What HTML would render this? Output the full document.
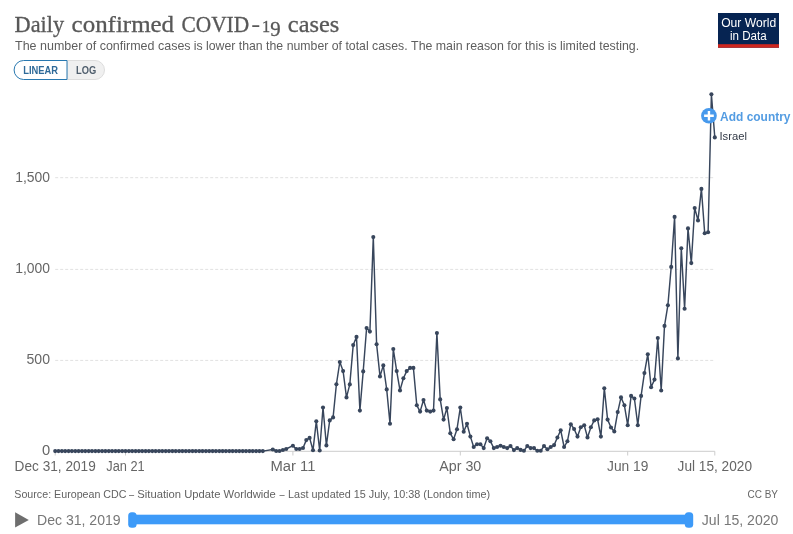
<!DOCTYPE html>
<html lang="en"><head><meta charset="utf-8"><title>Daily confirmed COVID-19 cases</title>
<style>
html,body{margin:0;padding:0;background:#fff;}
body{width:793px;height:534px;overflow:hidden;}
svg{display:block;font-family:"Liberation Sans",sans-serif;}
.serif{font-family:"Liberation Serif",serif;}
</style></head><body>
<svg width="793" height="534" viewBox="0 0 793 534">
<rect width="793" height="534" fill="#fff"/>
<!-- header -->
<text class="serif" y="32.2" font-size="23" fill="#585858" stroke="#585858" stroke-width="0.3"><tspan x="14.6" textLength="49.6" lengthAdjust="spacingAndGlyphs">Daily</tspan> <tspan x="71.6" textLength="102.5" lengthAdjust="spacingAndGlyphs">confirmed</tspan> <tspan x="181.4" textLength="67.8" lengthAdjust="spacingAndGlyphs">COVID</tspan><tspan x="251.2" stroke="none" textLength="9" lengthAdjust="spacingAndGlyphs">-</tspan><tspan x="262" y="32.4" font-size="16.8" textLength="8.2" lengthAdjust="spacingAndGlyphs">1</tspan><tspan x="270.2" y="35.6" font-size="21.3" textLength="10.4" lengthAdjust="spacingAndGlyphs">9</tspan> <tspan x="287.8" y="32.2" textLength="51.5" lengthAdjust="spacingAndGlyphs">cases</tspan></text>
<text y="50.2" font-size="12.6" fill="#5e5e5e"><tspan x="15.0" textLength="175.6" lengthAdjust="spacingAndGlyphs">The number of confirmed cases</tspan> <tspan x="193.7" textLength="213.9" lengthAdjust="spacingAndGlyphs">is lower than the number of total cases.</tspan> <tspan x="411.1" textLength="228.0" lengthAdjust="spacingAndGlyphs">The main reason for this is limited testing.</tspan></text>
<!-- logo -->
<g>
<rect x="718" y="13" width="61" height="34.7" fill="#062452"/>
<rect x="718" y="44.2" width="61" height="3.5" fill="#ce261e"/>
<text x="748.7" y="26.9" text-anchor="middle" font-size="12" fill="#fff" textLength="55" lengthAdjust="spacingAndGlyphs">Our World</text>
<text x="748.3" y="39.7" text-anchor="middle" font-size="12" fill="#fff" textLength="36.7" lengthAdjust="spacingAndGlyphs">in Data</text>
</g>
<!-- scale toggle -->
<g>
<path d="M67,60.5 H95 a9.5,9.5 0 0 1 0,19 H67 Z" fill="#f0f0f0" stroke="#ddd" stroke-width="1"/>
<path d="M67,60.5 H23.6 a9.5,9.5 0 0 0 0,19 H67 Z" fill="#fff" stroke="#2878b0" stroke-width="1"/>
<text x="23.2" y="73.6" font-size="10" font-weight="bold" fill="#2e6a99" textLength="34.8" lengthAdjust="spacingAndGlyphs">LINEAR</text>
<text x="76.1" y="73.6" font-size="10" font-weight="bold" fill="#4e5d6c" textLength="20.2" lengthAdjust="spacingAndGlyphs">LOG</text>
</g>
<!-- grid -->
<g stroke="#e1e1e1" stroke-width="1" stroke-dasharray="3,2">
<line x1="55.2" y1="177.7" x2="714.8" y2="177.7"/>
<line x1="55.2" y1="269.4" x2="714.8" y2="269.4"/>
<line x1="55.2" y1="360.4" x2="714.8" y2="360.4"/>
</g>
<line x1="55.2" y1="451.3" x2="714.8" y2="451.3" stroke="#ccc" stroke-width="1"/>
<g font-size="14" fill="#666" text-anchor="end">
<text x="50" y="182" textLength="34.8" lengthAdjust="spacingAndGlyphs">1,500</text>
<text x="50" y="273.2" textLength="34.8" lengthAdjust="spacingAndGlyphs">1,000</text>
<text x="50" y="364.4" textLength="23.5" lengthAdjust="spacingAndGlyphs">500</text>
<text x="50.3" y="454.6" textLength="8.2" lengthAdjust="spacingAndGlyphs">0</text>
</g>
<line x1="55.2" y1="451.3" x2="55.2" y2="455.5" stroke="#ccc" stroke-width="1"/><text x="55.2" y="471.4" text-anchor="middle" font-size="13.8" fill="#666" textLength="81.2" lengthAdjust="spacingAndGlyphs">Dec 31, 2019</text><line x1="125.5" y1="451.3" x2="125.5" y2="455.5" stroke="#ccc" stroke-width="1"/><text x="125.5" y="471.4" text-anchor="middle" font-size="13.8" fill="#666" textLength="38.4" lengthAdjust="spacingAndGlyphs">Jan 21</text><line x1="292.9" y1="451.3" x2="292.9" y2="455.5" stroke="#ccc" stroke-width="1"/><text x="292.9" y="471.4" text-anchor="middle" font-size="13.8" fill="#666" textLength="45" lengthAdjust="spacingAndGlyphs">Mar 11</text><line x1="460.3" y1="451.3" x2="460.3" y2="455.5" stroke="#ccc" stroke-width="1"/><text x="460.3" y="471.4" text-anchor="middle" font-size="13.8" fill="#666" textLength="42" lengthAdjust="spacingAndGlyphs">Apr 30</text><line x1="627.7" y1="451.3" x2="627.7" y2="455.5" stroke="#ccc" stroke-width="1"/><text x="627.7" y="471.4" text-anchor="middle" font-size="13.8" fill="#666" textLength="41.3" lengthAdjust="spacingAndGlyphs">Jun 19</text><line x1="714.8" y1="451.3" x2="714.8" y2="455.5" stroke="#ccc" stroke-width="1"/><text x="714.8" y="471.4" text-anchor="middle" font-size="13.8" fill="#666" textLength="74.4" lengthAdjust="spacingAndGlyphs">Jul 15, 2020</text>
<!-- series -->
<path d="M55.2,451.1 L58.5,451.1 L61.9,451.1 L65.2,451.1 L68.6,451.1 L71.9,451.1 L75.3,451.1 L78.6,451.1 L82.0,451.1 L85.3,451.1 L88.7,451.1 L92.0,451.1 L95.4,451.1 L98.7,451.1 L102.1,451.1 L105.4,451.1 L108.8,451.1 L112.1,451.1 L115.5,451.1 L118.8,451.1 L122.2,451.1 L125.5,451.1 L128.9,451.1 L132.2,451.1 L135.6,451.1 L138.9,451.1 L142.2,451.1 L145.6,451.1 L148.9,451.1 L152.3,451.1 L155.6,451.1 L159.0,451.1 L162.3,451.1 L165.7,451.1 L169.0,451.1 L172.4,451.1 L175.7,451.1 L179.1,451.1 L182.4,451.1 L185.8,451.1 L189.1,451.1 L192.5,451.1 L195.8,451.1 L199.2,451.1 L202.5,451.1 L205.9,451.1 L209.2,451.1 L212.6,451.1 L215.9,451.1 L219.3,451.1 L222.6,451.1 L225.9,451.1 L229.3,451.1 L232.6,451.1 L236.0,451.1 L239.3,451.1 L242.7,451.1 L246.0,451.1 L249.4,451.1 L252.7,451.1 L256.1,451.1 L259.4,451.1 L262.8,451.1 L272.8,449.5 L276.2,451.0 L279.5,451.0 L282.9,450.0 L286.2,449.0 L292.9,445.7 L296.3,449.0 L299.6,449.0 L303.0,448.0 L306.3,440.1 L309.6,437.9 L313.0,450.3 L316.3,421.2 L319.7,450.5 L323.0,407.5 L326.4,445.4 L329.7,420.4 L333.1,417.4 L336.4,384.3 L339.8,362.0 L343.1,371.1 L346.5,397.4 L349.8,384.4 L353.2,345.1 L356.5,336.9 L359.9,410.6 L363.2,371.4 L366.6,328.0 L369.9,331.6 L373.3,237.1 L376.6,344.2 L380.0,376.4 L383.3,365.4 L386.7,389.4 L390.0,423.7 L393.3,349.0 L396.7,371.1 L400.0,390.4 L403.4,378.2 L406.7,371.1 L410.1,367.9 L413.4,367.9 L416.8,405.3 L420.1,411.6 L423.5,400.0 L426.8,410.6 L430.2,411.6 L433.5,410.6 L436.9,333.1 L440.2,399.4 L443.6,419.6 L446.9,408.0 L450.3,433.3 L453.6,439.3 L457.0,429.2 L460.3,407.5 L463.7,431.8 L467.0,423.7 L470.4,436.6 L473.7,447.0 L477.0,444.3 L480.4,444.3 L483.7,448.1 L487.1,438.3 L490.4,441.3 L493.8,448.1 L497.1,447.0 L500.5,445.8 L503.8,447.0 L507.2,448.1 L510.5,446.0 L513.9,450.1 L517.2,448.1 L520.6,449.9 L523.9,450.8 L527.3,446.0 L530.6,448.1 L534.0,448.1 L537.3,450.8 L540.7,450.8 L544.0,446.0 L547.4,449.3 L550.7,447.0 L554.1,445.1 L557.4,437.5 L560.7,430.2 L564.1,447.0 L567.4,441.3 L570.8,424.2 L574.1,429.0 L577.5,436.6 L580.8,427.2 L584.2,425.2 L587.5,437.4 L590.9,427.2 L594.2,420.4 L597.6,419.3 L600.9,436.6 L604.3,388.2 L607.6,419.6 L611.0,427.5 L614.3,431.5 L617.7,412.1 L621.0,397.4 L624.4,405.3 L627.7,425.2 L631.1,395.9 L634.4,398.5 L637.8,425.2 L641.1,395.9 L644.4,373.1 L647.8,354.2 L651.1,387.3 L654.5,379.6 L657.8,338.0 L661.2,390.5 L664.5,325.9 L667.9,305.2 L671.2,266.9 L674.6,216.9 L677.9,358.4 L681.3,248.2 L684.6,308.7 L688.0,228.4 L691.3,263.1 L694.7,208.0 L698.0,220.4 L701.4,188.9 L704.7,233.3 L708.1,232.3 L711.4,94.2 L714.8,137.4" fill="none" stroke="#38465c" stroke-width="1.45" stroke-linejoin="round"/>
<g fill="#38465c"><circle cx="55.2" cy="451.1" r="2.05"/><circle cx="58.5" cy="451.1" r="2.05"/><circle cx="61.9" cy="451.1" r="2.05"/><circle cx="65.2" cy="451.1" r="2.05"/><circle cx="68.6" cy="451.1" r="2.05"/><circle cx="71.9" cy="451.1" r="2.05"/><circle cx="75.3" cy="451.1" r="2.05"/><circle cx="78.6" cy="451.1" r="2.05"/><circle cx="82.0" cy="451.1" r="2.05"/><circle cx="85.3" cy="451.1" r="2.05"/><circle cx="88.7" cy="451.1" r="2.05"/><circle cx="92.0" cy="451.1" r="2.05"/><circle cx="95.4" cy="451.1" r="2.05"/><circle cx="98.7" cy="451.1" r="2.05"/><circle cx="102.1" cy="451.1" r="2.05"/><circle cx="105.4" cy="451.1" r="2.05"/><circle cx="108.8" cy="451.1" r="2.05"/><circle cx="112.1" cy="451.1" r="2.05"/><circle cx="115.5" cy="451.1" r="2.05"/><circle cx="118.8" cy="451.1" r="2.05"/><circle cx="122.2" cy="451.1" r="2.05"/><circle cx="125.5" cy="451.1" r="2.05"/><circle cx="128.9" cy="451.1" r="2.05"/><circle cx="132.2" cy="451.1" r="2.05"/><circle cx="135.6" cy="451.1" r="2.05"/><circle cx="138.9" cy="451.1" r="2.05"/><circle cx="142.2" cy="451.1" r="2.05"/><circle cx="145.6" cy="451.1" r="2.05"/><circle cx="148.9" cy="451.1" r="2.05"/><circle cx="152.3" cy="451.1" r="2.05"/><circle cx="155.6" cy="451.1" r="2.05"/><circle cx="159.0" cy="451.1" r="2.05"/><circle cx="162.3" cy="451.1" r="2.05"/><circle cx="165.7" cy="451.1" r="2.05"/><circle cx="169.0" cy="451.1" r="2.05"/><circle cx="172.4" cy="451.1" r="2.05"/><circle cx="175.7" cy="451.1" r="2.05"/><circle cx="179.1" cy="451.1" r="2.05"/><circle cx="182.4" cy="451.1" r="2.05"/><circle cx="185.8" cy="451.1" r="2.05"/><circle cx="189.1" cy="451.1" r="2.05"/><circle cx="192.5" cy="451.1" r="2.05"/><circle cx="195.8" cy="451.1" r="2.05"/><circle cx="199.2" cy="451.1" r="2.05"/><circle cx="202.5" cy="451.1" r="2.05"/><circle cx="205.9" cy="451.1" r="2.05"/><circle cx="209.2" cy="451.1" r="2.05"/><circle cx="212.6" cy="451.1" r="2.05"/><circle cx="215.9" cy="451.1" r="2.05"/><circle cx="219.3" cy="451.1" r="2.05"/><circle cx="222.6" cy="451.1" r="2.05"/><circle cx="225.9" cy="451.1" r="2.05"/><circle cx="229.3" cy="451.1" r="2.05"/><circle cx="232.6" cy="451.1" r="2.05"/><circle cx="236.0" cy="451.1" r="2.05"/><circle cx="239.3" cy="451.1" r="2.05"/><circle cx="242.7" cy="451.1" r="2.05"/><circle cx="246.0" cy="451.1" r="2.05"/><circle cx="249.4" cy="451.1" r="2.05"/><circle cx="252.7" cy="451.1" r="2.05"/><circle cx="256.1" cy="451.1" r="2.05"/><circle cx="259.4" cy="451.1" r="2.05"/><circle cx="262.8" cy="451.1" r="2.05"/><circle cx="272.8" cy="449.5" r="2.05"/><circle cx="276.2" cy="451.0" r="2.05"/><circle cx="279.5" cy="451.0" r="2.05"/><circle cx="282.9" cy="450.0" r="2.05"/><circle cx="286.2" cy="449.0" r="2.05"/><circle cx="292.9" cy="445.7" r="2.05"/><circle cx="296.3" cy="449.0" r="2.05"/><circle cx="299.6" cy="449.0" r="2.05"/><circle cx="303.0" cy="448.0" r="2.05"/><circle cx="306.3" cy="440.1" r="2.05"/><circle cx="309.6" cy="437.9" r="2.05"/><circle cx="313.0" cy="450.3" r="2.05"/><circle cx="316.3" cy="421.2" r="2.05"/><circle cx="319.7" cy="450.5" r="2.05"/><circle cx="323.0" cy="407.5" r="2.05"/><circle cx="326.4" cy="445.4" r="2.05"/><circle cx="329.7" cy="420.4" r="2.05"/><circle cx="333.1" cy="417.4" r="2.05"/><circle cx="336.4" cy="384.3" r="2.05"/><circle cx="339.8" cy="362.0" r="2.05"/><circle cx="343.1" cy="371.1" r="2.05"/><circle cx="346.5" cy="397.4" r="2.05"/><circle cx="349.8" cy="384.4" r="2.05"/><circle cx="353.2" cy="345.1" r="2.05"/><circle cx="356.5" cy="336.9" r="2.05"/><circle cx="359.9" cy="410.6" r="2.05"/><circle cx="363.2" cy="371.4" r="2.05"/><circle cx="366.6" cy="328.0" r="2.05"/><circle cx="369.9" cy="331.6" r="2.05"/><circle cx="373.3" cy="237.1" r="2.05"/><circle cx="376.6" cy="344.2" r="2.05"/><circle cx="380.0" cy="376.4" r="2.05"/><circle cx="383.3" cy="365.4" r="2.05"/><circle cx="386.7" cy="389.4" r="2.05"/><circle cx="390.0" cy="423.7" r="2.05"/><circle cx="393.3" cy="349.0" r="2.05"/><circle cx="396.7" cy="371.1" r="2.05"/><circle cx="400.0" cy="390.4" r="2.05"/><circle cx="403.4" cy="378.2" r="2.05"/><circle cx="406.7" cy="371.1" r="2.05"/><circle cx="410.1" cy="367.9" r="2.05"/><circle cx="413.4" cy="367.9" r="2.05"/><circle cx="416.8" cy="405.3" r="2.05"/><circle cx="420.1" cy="411.6" r="2.05"/><circle cx="423.5" cy="400.0" r="2.05"/><circle cx="426.8" cy="410.6" r="2.05"/><circle cx="430.2" cy="411.6" r="2.05"/><circle cx="433.5" cy="410.6" r="2.05"/><circle cx="436.9" cy="333.1" r="2.05"/><circle cx="440.2" cy="399.4" r="2.05"/><circle cx="443.6" cy="419.6" r="2.05"/><circle cx="446.9" cy="408.0" r="2.05"/><circle cx="450.3" cy="433.3" r="2.05"/><circle cx="453.6" cy="439.3" r="2.05"/><circle cx="457.0" cy="429.2" r="2.05"/><circle cx="460.3" cy="407.5" r="2.05"/><circle cx="463.7" cy="431.8" r="2.05"/><circle cx="467.0" cy="423.7" r="2.05"/><circle cx="470.4" cy="436.6" r="2.05"/><circle cx="473.7" cy="447.0" r="2.05"/><circle cx="477.0" cy="444.3" r="2.05"/><circle cx="480.4" cy="444.3" r="2.05"/><circle cx="483.7" cy="448.1" r="2.05"/><circle cx="487.1" cy="438.3" r="2.05"/><circle cx="490.4" cy="441.3" r="2.05"/><circle cx="493.8" cy="448.1" r="2.05"/><circle cx="497.1" cy="447.0" r="2.05"/><circle cx="500.5" cy="445.8" r="2.05"/><circle cx="503.8" cy="447.0" r="2.05"/><circle cx="507.2" cy="448.1" r="2.05"/><circle cx="510.5" cy="446.0" r="2.05"/><circle cx="513.9" cy="450.1" r="2.05"/><circle cx="517.2" cy="448.1" r="2.05"/><circle cx="520.6" cy="449.9" r="2.05"/><circle cx="523.9" cy="450.8" r="2.05"/><circle cx="527.3" cy="446.0" r="2.05"/><circle cx="530.6" cy="448.1" r="2.05"/><circle cx="534.0" cy="448.1" r="2.05"/><circle cx="537.3" cy="450.8" r="2.05"/><circle cx="540.7" cy="450.8" r="2.05"/><circle cx="544.0" cy="446.0" r="2.05"/><circle cx="547.4" cy="449.3" r="2.05"/><circle cx="550.7" cy="447.0" r="2.05"/><circle cx="554.1" cy="445.1" r="2.05"/><circle cx="557.4" cy="437.5" r="2.05"/><circle cx="560.7" cy="430.2" r="2.05"/><circle cx="564.1" cy="447.0" r="2.05"/><circle cx="567.4" cy="441.3" r="2.05"/><circle cx="570.8" cy="424.2" r="2.05"/><circle cx="574.1" cy="429.0" r="2.05"/><circle cx="577.5" cy="436.6" r="2.05"/><circle cx="580.8" cy="427.2" r="2.05"/><circle cx="584.2" cy="425.2" r="2.05"/><circle cx="587.5" cy="437.4" r="2.05"/><circle cx="590.9" cy="427.2" r="2.05"/><circle cx="594.2" cy="420.4" r="2.05"/><circle cx="597.6" cy="419.3" r="2.05"/><circle cx="600.9" cy="436.6" r="2.05"/><circle cx="604.3" cy="388.2" r="2.05"/><circle cx="607.6" cy="419.6" r="2.05"/><circle cx="611.0" cy="427.5" r="2.05"/><circle cx="614.3" cy="431.5" r="2.05"/><circle cx="617.7" cy="412.1" r="2.05"/><circle cx="621.0" cy="397.4" r="2.05"/><circle cx="624.4" cy="405.3" r="2.05"/><circle cx="627.7" cy="425.2" r="2.05"/><circle cx="631.1" cy="395.9" r="2.05"/><circle cx="634.4" cy="398.5" r="2.05"/><circle cx="637.8" cy="425.2" r="2.05"/><circle cx="641.1" cy="395.9" r="2.05"/><circle cx="644.4" cy="373.1" r="2.05"/><circle cx="647.8" cy="354.2" r="2.05"/><circle cx="651.1" cy="387.3" r="2.05"/><circle cx="654.5" cy="379.6" r="2.05"/><circle cx="657.8" cy="338.0" r="2.05"/><circle cx="661.2" cy="390.5" r="2.05"/><circle cx="664.5" cy="325.9" r="2.05"/><circle cx="667.9" cy="305.2" r="2.05"/><circle cx="671.2" cy="266.9" r="2.05"/><circle cx="674.6" cy="216.9" r="2.05"/><circle cx="677.9" cy="358.4" r="2.05"/><circle cx="681.3" cy="248.2" r="2.05"/><circle cx="684.6" cy="308.7" r="2.05"/><circle cx="688.0" cy="228.4" r="2.05"/><circle cx="691.3" cy="263.1" r="2.05"/><circle cx="694.7" cy="208.0" r="2.05"/><circle cx="698.0" cy="220.4" r="2.05"/><circle cx="701.4" cy="188.9" r="2.05"/><circle cx="704.7" cy="233.3" r="2.05"/><circle cx="708.1" cy="232.3" r="2.05"/><circle cx="711.4" cy="94.2" r="2.05"/><circle cx="714.8" cy="137.4" r="2.05"/></g>
<text x="719.5" y="139.5" font-size="11.5" fill="#333a47" textLength="27.5" lengthAdjust="spacingAndGlyphs">Israel</text>
<!-- add country -->
<circle cx="708.95" cy="115.75" r="7.85" fill="#4799ec"/>
<path d="M704.1,115.75 h9.7 M708.95,110.9 v9.7" stroke="#fff" stroke-width="2.4" fill="none"/>
<text x="720.1" y="120.5" font-size="12.6" font-weight="bold" fill="#539ce2" textLength="70.4" lengthAdjust="spacingAndGlyphs">Add country</text>
<!-- footer -->
<text y="498.3" font-size="11" fill="#626262"><tspan x="14.3" textLength="112.2" lengthAdjust="spacingAndGlyphs">Source: European CDC</tspan> <tspan x="129.1" textLength="5.1" lengthAdjust="spacingAndGlyphs">–</tspan> <tspan x="137.3" textLength="138.5" lengthAdjust="spacingAndGlyphs">Situation Update Worldwide</tspan> <tspan x="279.6" textLength="5.1" lengthAdjust="spacingAndGlyphs">–</tspan> <tspan x="288.1" textLength="202.1" lengthAdjust="spacingAndGlyphs">Last updated 15 July, 10:38 (London time)</tspan></text>
<text x="778" y="498.3" font-size="11" fill="#666" text-anchor="end" textLength="30.5" lengthAdjust="spacingAndGlyphs">CC BY</text>
<!-- timeline -->
<path d="M15.1,512.3 L28.8,519.9 L15.1,527.4 Z" fill="#6e6e6e"/>
<text x="37" y="525" font-size="14" fill="#777" textLength="83.6" lengthAdjust="spacingAndGlyphs">Dec 31, 2019</text>
<rect x="132" y="514.7" width="557" height="9.6" fill="#3d9af8"/>
<rect x="128.2" y="512.2" width="8.4" height="15.5" rx="3.5" fill="#3d9af8"/>
<rect x="684.8" y="512.2" width="8.4" height="15.5" rx="3.5" fill="#3d9af8"/>
<text x="701.8" y="525.2" font-size="14" fill="#777" textLength="76.6" lengthAdjust="spacingAndGlyphs">Jul 15, 2020</text>
</svg>
</body></html>
